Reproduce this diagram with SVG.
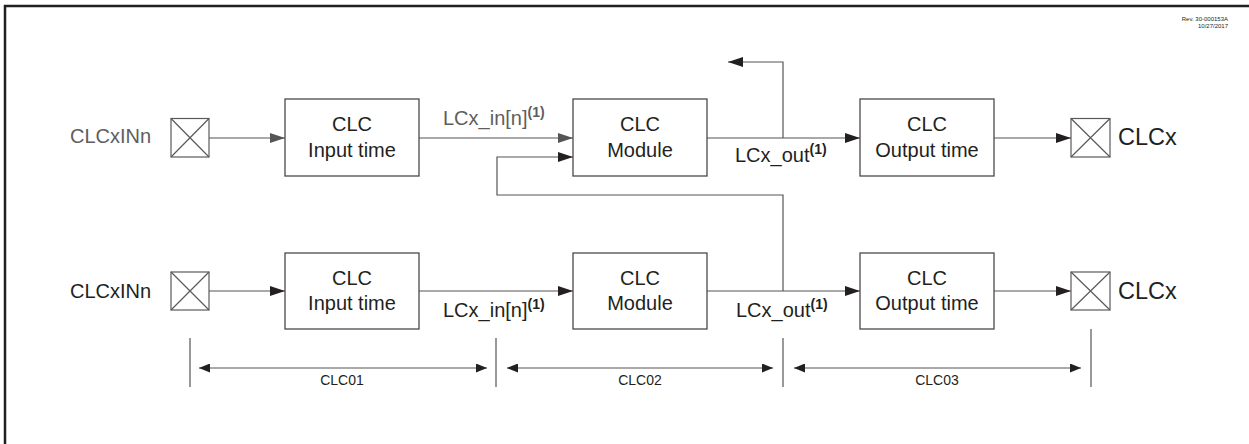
<svg xmlns="http://www.w3.org/2000/svg" width="1249" height="444" viewBox="0 0 1249 444">
<style>
text{font-family:"Liberation Sans",Arial,sans-serif;fill:#231f20}
.big{font-size:20px}
.out{font-size:23.5px}
.g{fill:#5e5e5e}
.sup{font-size:14px;font-weight:bold}
.dim{font-size:14px}
.rev{font-size:6px}
.box{fill:#fff;stroke:#4a4a4a;stroke-width:1.3}
.pin{fill:none;stroke:#5a5a5a;stroke-width:1.2}
.ln{fill:none;stroke:#555;stroke-width:1.2}
</style>
<defs>
<marker id="ah" markerUnits="userSpaceOnUse" markerWidth="15" markerHeight="10" refX="15" refY="5" orient="auto"><path d="M0,0 L15,5 L0,10 z" fill="#231f20"/></marker>
<marker id="ahg" markerUnits="userSpaceOnUse" markerWidth="15" markerHeight="10" refX="15" refY="5" orient="auto"><path d="M0,0 L15,5 L0,10 z" fill="#555"/></marker>
<marker id="da" markerUnits="userSpaceOnUse" markerWidth="11" markerHeight="9" refX="11" refY="4.5" orient="auto-start-reverse"><path d="M0,0 L11,4.5 L0,9 z" fill="#231f20"/></marker>
</defs>
<rect width="1249" height="444" fill="#fff"/>
<path d="M5,444 V6 H1249" fill="none" stroke="#231f20" stroke-width="2.5"/>
<text class="rev" x="1228" y="21" text-anchor="end">Rev. 30-000153A</text>
<text class="rev" x="1228" y="28" text-anchor="end">10/27/2017</text>

<g id="connectors">
<line class="ln" x1="209" y1="138" x2="285" y2="138" marker-end="url(#ahg)"/>
<line class="ln" x1="419" y1="138" x2="573" y2="138" marker-end="url(#ahg)"/>
<line class="ln" x1="707" y1="138" x2="860" y2="138" marker-end="url(#ah)"/>
<polyline class="ln" points="783,138 783,62 728,62" marker-end="url(#ah)"/>
<line class="ln" x1="994" y1="138" x2="1071" y2="138" marker-end="url(#ah)"/>
<polyline class="ln" points="783,291 783,195 497,195 497,157 573,157" marker-end="url(#ah)"/>
<line class="ln" x1="209" y1="291" x2="285" y2="291" marker-end="url(#ah)"/>
<line class="ln" x1="419" y1="291" x2="573" y2="291" marker-end="url(#ah)"/>
<line class="ln" x1="707" y1="291" x2="860" y2="291" marker-end="url(#ah)"/>
<line class="ln" x1="994" y1="291" x2="1071" y2="291" marker-end="url(#ah)"/>
<line class="ln" x1="190" y1="338" x2="190" y2="387"/>
<line class="ln" x1="496" y1="338" x2="496" y2="387"/>
<line class="ln" x1="783" y1="338" x2="783" y2="387"/>
<line class="ln" x1="1091" y1="329" x2="1091" y2="387"/>
<line class="ln" x1="199" y1="368" x2="487" y2="368" marker-start="url(#da)" marker-end="url(#da)"/>
<line class="ln" x1="507" y1="368" x2="773" y2="368" marker-start="url(#da)" marker-end="url(#da)"/>
<line class="ln" x1="794" y1="368" x2="1081" y2="368" marker-start="url(#da)" marker-end="url(#da)"/>
<text class="dim" x="342" y="385" text-anchor="middle">CLC01</text>
<text class="dim" x="640" y="385" text-anchor="middle">CLC02</text>
<text class="dim" x="937" y="385" text-anchor="middle">CLC03</text>
<text class="big g" x="443" y="125">LCx_in[n]<tspan class="sup" dy="-8">(1)</tspan></text>
<text class="big" x="735" y="162">LCx_out<tspan class="sup" dy="-8">(1)</tspan></text>
<text class="big" x="443" y="317">LCx_in[n]<tspan class="sup" dy="-8">(1)</tspan></text>
<text class="big" x="736" y="317">LCx_out<tspan class="sup" dy="-8">(1)</tspan></text>
</g>

<g id="in-top">
<text class="big g" x="70" y="143">CLCxINn</text>
<rect class="pin" x="171" y="118.5" width="38" height="38.5"/>
<path class="pin" d="M171,118.5 L209,157 M209,118.5 L171,157"/>
</g>
<g id="inputtime-top">
<rect class="box" x="285" y="99" width="134" height="77"/>
<text class="big" x="352" y="131" text-anchor="middle">CLC</text>
<text class="big" x="352" y="157" text-anchor="middle">Input time</text>
</g>
<g id="module-top">
<rect class="box" x="573" y="99" width="134" height="77"/>
<text class="big" x="640" y="131" text-anchor="middle">CLC</text>
<text class="big" x="640" y="157" text-anchor="middle">Module</text>
</g>
<g id="outputtime-top">
<rect class="box" x="860" y="99" width="134" height="77"/>
<text class="big" x="927" y="131" text-anchor="middle">CLC</text>
<text class="big" x="927" y="157" text-anchor="middle">Output time</text>
</g>
<g id="out-top">
<rect class="pin" x="1071" y="118.5" width="39" height="38.5"/>
<path class="pin" d="M1071,118.5 L1110,157 M1110,118.5 L1071,157"/>
<text class="out" x="1118" y="145">CLCx</text>
</g>

<g id="in-bottom">
<text class="big" x="70" y="298">CLCxINn</text>
<rect class="pin" x="171" y="272" width="38" height="38"/>
<path class="pin" d="M171,272 L209,310 M209,272 L171,310"/>
</g>
<g id="inputtime-bottom">
<rect class="box" x="285" y="253" width="134" height="76"/>
<text class="big" x="352" y="285" text-anchor="middle">CLC</text>
<text class="big" x="352" y="310" text-anchor="middle">Input time</text>
</g>
<g id="module-bottom">
<rect class="box" x="573" y="253" width="134" height="76"/>
<text class="big" x="640" y="285" text-anchor="middle">CLC</text>
<text class="big" x="640" y="310" text-anchor="middle">Module</text>
</g>
<g id="outputtime-bottom">
<rect class="box" x="860" y="253" width="134" height="76"/>
<text class="big" x="927" y="285" text-anchor="middle">CLC</text>
<text class="big" x="927" y="310" text-anchor="middle">Output time</text>
</g>
<g id="out-bottom">
<rect class="pin" x="1071" y="272" width="39" height="38"/>
<path class="pin" d="M1071,272 L1110,310 M1110,272 L1071,310"/>
<text class="out" x="1118" y="299">CLCx</text>
</g>
</svg>
